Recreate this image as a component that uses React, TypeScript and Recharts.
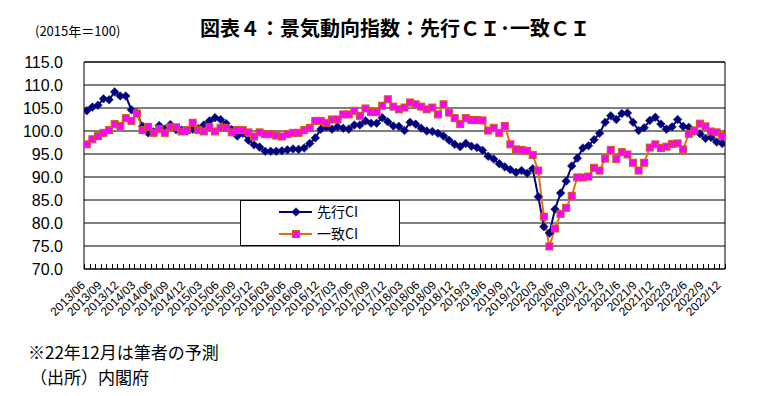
import React from 'react';
import { LineChart, Line, XAxis, YAxis, CartesianGrid, ReferenceArea, Legend } from 'recharts';

const tickLabels = [
  '2013/06', '2013/09', '2013/12', '2014/03', '2014/06', '2014/09', '2014/12',
  '2015/03', '2015/06', '2015/09', '2015/12', '2016/03', '2016/06', '2016/09', '2016/12',
  '2017/03', '2017/06', '2017/09', '2017/12', '2018/03', '2018/06', '2018/09', '2018/12',
  '2019/3', '2019/6', '2019/9', '2019/12', '2020/3', '2020/6', '2020/9', '2020/12',
  '2021/3', '2021/6', '2021/9', '2021/12', '2022/3', '2022/6', '2022/9', '2022/12',
];

const leadingCI = [
  104.4, 105.2, 105.6, 107.0, 106.8, 108.5, 107.6, 107.6, 104.6, 103.9,
  101.0, 99.6, 99.8, 101.2, 100.4, 101.4, 100.3, 100.2, 100.0, 100.4,
  100.5, 101.3, 102.2, 102.9, 102.5, 101.6, 100.3, 98.9, 99.5, 98.0,
  97.0, 96.5, 95.6, 95.6, 95.6, 95.7, 95.9, 96.1, 96.0, 96.3,
  97.3, 98.5, 100.4, 100.9, 100.4, 100.9, 100.6, 100.4, 101.3, 101.3,
  102.2, 101.7, 101.7, 102.9, 102.0, 101.1, 101.0, 100.1, 101.9, 101.5,
  100.6, 100.0, 99.9, 99.5, 98.9, 98.0, 97.1, 96.6, 97.3, 96.7,
  96.4, 95.8, 94.5, 93.9, 92.9, 92.2, 91.6, 91.0, 91.4, 90.8,
  91.8, 85.7, 79.2, 77.8, 83.0, 86.5, 89.1, 92.4, 94.1, 96.3,
  96.8, 98.1, 99.5, 101.9, 103.3, 102.5, 103.8, 103.9, 101.9, 100.1,
  100.7, 102.3, 103.0, 101.5, 100.4, 100.9, 102.5, 101.0, 100.8, 100.0,
  99.4, 98.4, 98.6, 97.6, 97.3,
];

const coincidentCI = [
  97.1, 98.2, 98.9, 99.6, 100.2, 101.5, 101.1, 102.8, 102.2, 103.8,
  100.2, 100.9, 99.6, 100.4, 99.6, 100.8, 100.8, 99.9, 100.2, 101.8,
  100.2, 99.9, 100.8, 99.9, 100.7, 100.7, 99.7, 100.2, 100.2, 99.7,
  98.8, 99.7, 99.3, 99.3, 99.0, 98.8, 99.3, 99.6, 99.6, 100.2,
  100.7, 102.2, 102.2, 101.7, 102.5, 102.5, 103.6, 103.6, 104.4, 103.3,
  104.9, 104.1, 104.1, 105.5, 106.9, 105.3, 104.7, 105.1, 106.2, 105.8,
  105.3, 104.7, 105.1, 103.6, 105.8, 104.0, 102.8, 101.5, 102.8, 102.4,
  102.4, 102.3, 100.1, 100.7, 99.6, 101.1, 97.1, 96.0, 95.9, 95.7,
  94.8, 91.4, 81.4, 74.9, 78.8, 82.0, 83.3, 85.9, 89.9, 89.9,
  90.1, 92.0, 91.4, 94.0, 95.9, 93.9, 95.4, 94.9, 93.1, 91.4,
  93.1, 96.4, 97.1, 96.3, 96.6, 97.2, 97.3, 96.0, 99.4, 100.1,
  101.6, 101.0, 99.9, 99.7, 98.9,
];

const seriesNames = ['先行CI', '一致CI'];
const yTicks = [70, 75, 80, 85, 90, 95, 100, 105, 110, 115];

const data = leadingCI.map((v, i) => ({ x: i + 0.5, lead: v, coin: coincidentCI[i] }));
const monthTicks = Array.from({ length: leadingCI.length + 1 }, (_, k) => k);
const N_MONTHS = leadingCI.length;

const NAVY = '#000080';
const ORANGE = '#E0701C';
const SQ_EDGE = '#C8600F';
const MAGENTA = '#FF00FF';
const LATIN = '"Liberation Sans", Arial, sans-serif';
const CJK = '"Noto Sans CJK JP", "Noto Sans", sans-serif';

function Diamond({ cx, cy }: any) {
  if (cx == null || cy == null) return null;
  const r = 4.3;
  return (
    <path
      d={`M${cx},${cy - r}L${cx + r},${cy}L${cx},${cy + r}L${cx - r},${cy}Z`}
      fill={NAVY}
      stroke="#1a1a6e"
      strokeWidth={0.6}
    />
  );
}

function Square({ cx, cy }: any) {
  if (cx == null || cy == null) return null;
  const s = 7;
  return <rect x={cx - s / 2} y={cy - s / 2} width={s} height={s} fill={MAGENTA} stroke={SQ_EDGE} strokeWidth={1} />;
}

// one tick per month boundary: a short inward tick line, plus a rotated label every 3 months
function MonthTick(props: any) {
  const { x, y, payload } = props;
  const m = Math.round(payload.value);
  const showLabel = m % 3 === 0 && m < N_MONTHS;
  const ax = x + 2;
  const ay = y + 17;
  const lx = Math.round(x) + 0.5;
  return (
    <g>
      <line x1={lx} y1={y} x2={lx} y2={y - 5} stroke="#000" strokeWidth={1} shapeRendering="crispEdges" />
      {showLabel && (
        <text
          x={ax}
          y={ay}
          transform={`rotate(-45 ${ax} ${ay})`}
          textAnchor="end"
          fontSize={12}
          fill="#000"
          fontFamily={LATIN}
        >
          {tickLabels[m / 3]}
        </text>
      )}
    </g>
  );
}

function LegendBox() {
  return (
    <svg width={160} height={46} style={{ display: 'block' }}>
      <rect x={0.5} y={0.5} width={159} height={45} fill="#fff" stroke="#000" strokeWidth={1} />
      <line x1={39} y1={12} x2={72} y2={12} stroke={NAVY} strokeWidth={2} />
      <Diamond cx={56} cy={12} />
      <text x={77} y={17} fontSize={14} fontFamily={CJK} fill="#000">{seriesNames[0]}</text>
      <line x1={39} y1={34} x2={72} y2={34} stroke={ORANGE} strokeWidth={2} />
      <Square cx={56} cy={34} />
      <text x={77} y={39} fontSize={14} fontFamily={CJK} fill="#000">{seriesNames[1]}</text>
    </svg>
  );
}

export default function App() {
  return (
    <div style={{ position: 'absolute', left: 0, top: 0, width: 760, height: 396, background: '#fff' }}>
      <LineChart
        width={760}
        height={396}
        data={data}
        margin={{ top: 62, right: 35, left: 0, bottom: 57 }}
        style={{ fontFamily: LATIN }}
      >
        <CartesianGrid horizontal vertical={false} stroke="#000" strokeWidth={1} />
        <ReferenceArea x1={0} x2={N_MONTHS} y1={70} y2={115} fill="none" stroke="#000" strokeWidth={1} ifOverflow="visible" />
        <XAxis
          dataKey="x"
          type="number"
          domain={[0, N_MONTHS]}
          ticks={monthTicks}
          interval={0}
          tick={<MonthTick />}
          tickLine={false}
          tickSize={0}
          tickMargin={0}
          axisLine={false}
          height={70}
          allowDataOverflow
        />
        <YAxis
          type="number"
          domain={[70, 115]}
          ticks={yTicks}
          interval={0}
          tickFormatter={(v: number) => v.toFixed(1)}
          axisLine={false}
          tickLine={false}
          tickSize={0}
          tickMargin={21}
          width={84}
          tick={{ fontSize: 16, fill: '#000', fontFamily: LATIN }}
          allowDataOverflow
        />
        <Line
          dataKey="lead"
          name={seriesNames[0]}
          stroke={NAVY}
          strokeWidth={2}
          isAnimationActive={false}
          dot={(p: any) => <Diamond key={`d${p.index}`} cx={p.cx} cy={p.cy} />}
          activeDot={false}
        />
        <Line
          dataKey="coin"
          name={seriesNames[1]}
          stroke={ORANGE}
          strokeWidth={2}
          isAnimationActive={false}
          dot={(p: any) => <Square key={`s${p.index}`} cx={p.cx} cy={p.cy} />}
          activeDot={false}
        />
        <Legend
          layout="horizontal"
          verticalAlign="middle"
          align="center"
          wrapperStyle={{ position: 'absolute', left: 240, top: 200, width: 160, height: 46 }}
          content={() => <LegendBox />}
        />
      </LineChart>
      <svg
        width={760}
        height={396}
        style={{ position: 'absolute', left: 0, top: 0, pointerEvents: 'none' }}
      >
        <text x={35} y={35.5} fontSize={13} fontFamily={CJK} fill="#000">(2015年＝100)</text>
        <text x={200} y={35.5} fontSize={20} fontWeight="bold" fontFamily={CJK} fill="#000">
          図表４：景気動向指数：先行ＣＩ･一致ＣＩ
        </text>
        <text x={28} y={358.5} fontSize={17} fontFamily={CJK} fill="#000">※22年12月は筆者の予測</text>
        <text x={30} y={383.5} fontSize={17} fontFamily={CJK} fill="#000">（出所）内閣府</text>
      </svg>
    </div>
  );
}
